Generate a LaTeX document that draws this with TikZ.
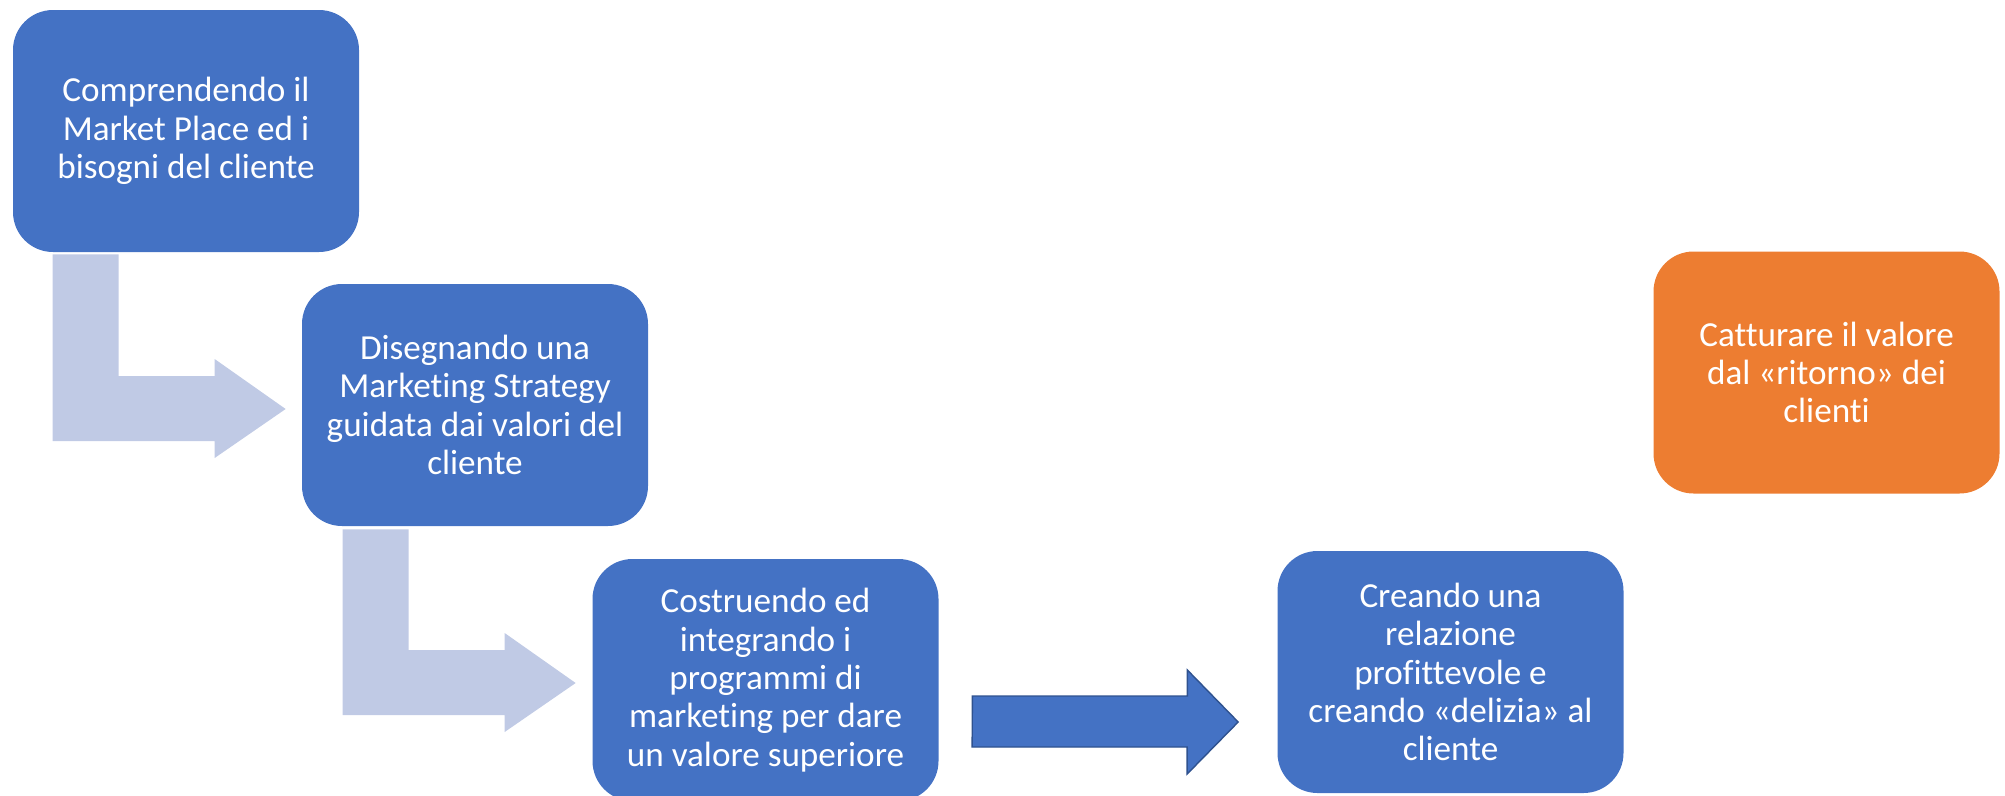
\documentclass[tikz,border=0pt]{standalone}
\usepackage{fontspec}
\setmainfont[Ligatures=NoCommon]{Carlito}
\usepackage{tikz}
\usetikzlibrary{calc}
\definecolor{boxblue}{HTML}{4472C4}
\definecolor{boxorange}{HTML}{ED7D31}
\definecolor{paleblue}{RGB}{192,202,229}
\definecolor{edgeblue}{HTML}{2F528F}
\tikzset{phase box/.style={rounded corners=0.8cm, minimum width=6.92cm, minimum height=4.84cm,
    align=center, text=white, font=\fontsize{20}{21.8}\selectfont, inner sep=0pt}}
\tikzset{bent arrow/.style={fill=paleblue, draw=none}}

\begin{document}
\begin{tikzpicture}

    \useasboundingbox (0,0) rectangle (40.1,-15.9);

    \node (P1) [phase box, fill=boxblue] at (3.72, -2.62)
        {Comprendendo il\\Market Place ed i\\bisogni del cliente};
    \node (P2) [phase box, fill=boxblue] at (9.50, -8.10)
        {Disegnando una\\Marketing Strategy\\guidata dai valori del\\cliente};
    \node (P3) [phase box, fill=boxblue] at (15.31, -13.60)
        {Costruendo ed\\integrando i\\programmi di\\marketing per dare\\un valore superiore};
    \node (P4) [phase box, fill=boxblue] at (29.01, -13.44)
        {Creando una\\relazione\\profittevole e\\creando «delizia» al\\cliente};
    \node (P5) [phase box, fill=boxorange] at (36.53, -7.45)
        {Catturare il valore\\dal «ritorno» dei\\clienti};

    \coordinate (A1) at ($(P1.south west)+(0.80,-0.04)$);
    \coordinate (T1) at ($(P2.west)+(-0.32,-0.08)$);
    \coordinate (A2) at ($(P2.south west)+(0.82,-0.06)$);
    \coordinate (T2) at ($(P3.west)+(-0.33,-0.06)$);
    \coordinate (A3) at ($(P3.east)+(0.67,-0.32)$);
    \coordinate (T3) at ($(P4.west)+(-0.78,-1.00)$);

    %bent arrows
    \fill[bent arrow] (A1) -- ++(1.32,0) |- ($(T1)+(-1.42,0.66)$) -- ++(0,0.34) -- (T1)
        -- ++(-1.42,-0.98) -- ++(0,0.34) -| (A1);
    \fill[bent arrow] (A2) -- ++(1.32,0) |- ($(T2)+(-1.42,0.66)$) -- ++(0,0.34) -- (T2)
        -- ++(-1.42,-0.98) -- ++(0,0.34) -| (A2);

    %straight arrow
    \draw[fill=boxblue, draw=edgeblue, line width=0.8pt] (A3) -- ++(4.30,0) -- ++(0,0.52) -- (T3)
        -- ++(-1.02,-1.04) -- ++(0,0.54) -- ++(-4.30,0) -- cycle;

\end{tikzpicture}
\end{document}
